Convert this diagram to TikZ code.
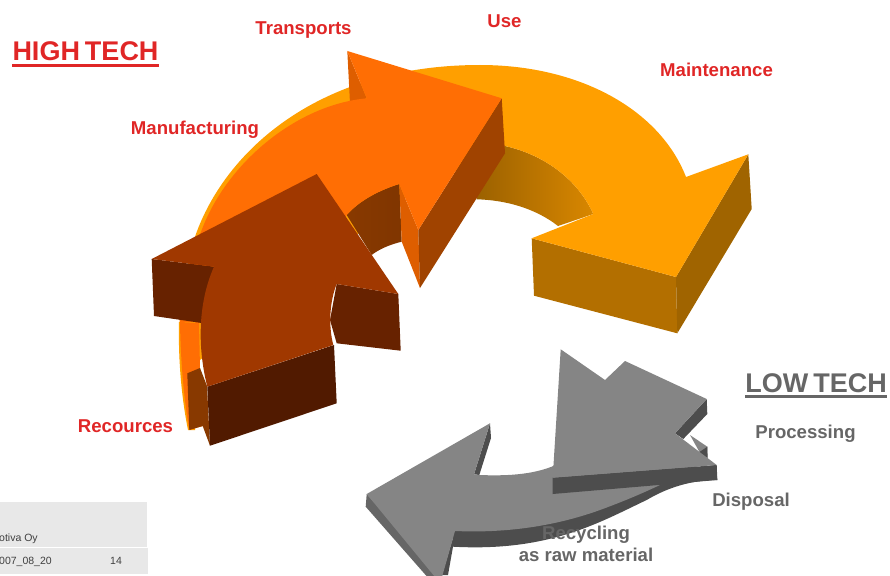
\documentclass[tikz,border=0pt]{standalone}
\usepackage{fontspec}
\setmainfont{Liberation Sans}
\definecolor{ylw}{HTML}{FF9F00}
\definecolor{ylwfront}{HTML}{B36F00}
\definecolor{ylwside}{HTML}{A06400}
\definecolor{org}{HTML}{FF6E04}
\definecolor{orgmid}{HTML}{DE5E00}
\definecolor{orgside}{HTML}{A04300}
\definecolor{brn}{HTML}{A03800}
\definecolor{brnside}{HTML}{672200}
\definecolor{brndark}{HTML}{511A00}
\definecolor{gtop}{HTML}{858585}
\definecolor{gdark}{HTML}{4D4D4D}
\definecolor{gmid}{HTML}{666666}
\definecolor{lblred}{HTML}{E02626}
\definecolor{lblgrey}{HTML}{666666}
\definecolor{foot}{HTML}{E8E8E8}
\tikzset{
  lbl/.style={inner sep=0pt,anchor=base,font=\fontsize{18.6}{20}\selectfont\bfseries},
  redlbl/.style={lbl,text=lblred},
  greylbl/.style={lbl,text=lblgrey},
  head/.style={inner sep=0pt,anchor=base,font=\fontsize{27}{29}\selectfont\bfseries},
  footlbl/.style={inner sep=0pt,anchor=base west,font=\fontsize{10.5}{12}\selectfont,text=black!75},
}
\begin{document}
\begin{tikzpicture}[x=1pt,y=-1pt]
\useasboundingbox (0,0) rectangle (890,575);
% footer
\fill[foot] (0,502) rectangle (147,547);
\fill[foot] (0,548) rectangle (148,574);
\node[footlbl] (fa) at (-1,541) {otiva Oy};
\node[footlbl] (fb) at (-1,564.5) {007\_08\_20};
\node[footlbl] (fc) at (110,564.5) {14};
% yellow arrow
\shade[left color=ylwside!95!black,right color=ylw!85!black]
  (470,140) -- (505,146) .. controls (545,155) and (578,180) .. (593.3,214) -- (558,226)
  .. controls (535,208) and (505,200) .. (476.7,199.3) -- cycle;
\fill[ylwfront] (531.7,238.3) -- (676,277) -- (677.3,333.3) -- (534,295.7) -- cycle;
\fill[ylwside] (676,277) -- (748.3,154.3) -- (751.7,209) -- (677.3,333.3) -- cycle;
\fill[ylw] (200,360) -- (180,360) .. controls (178,320) and (184,270) .. (195,236.7)
  .. controls (225,150) and (320,65) .. (480,65) .. controls (580,65) and (660,110) .. (686,177)
  -- (748.3,154.3) -- (676,277) -- (531.7,238.3) -- (593.3,214)
  .. controls (578,180) and (545,155) .. (505,146)
  -- (400,200) -- cycle;
% orange arrow
\shade[left color=orgside!85!black,right color=orgside!80!black]
  (346.7,215) .. controls (360,200) and (380,190) .. (399.3,184) -- (401.7,241.7)
  .. controls (388,245) and (378,250) .. (371.7,255) -- cycle;
\fill[orgmid] (399.3,184) -- (418.3,230) -- (420,288) -- (401.7,241.7) -- cycle;
\fill[orgside] (501.7,98.3) -- (505,153.3) -- (420,288) -- (418.3,230) -- cycle;
\fill[orgmid] (347.3,51) -- (366.7,98.3) -- (350,103.3) -- cycle;
\fill[org] (179.5,322) .. controls (181,290) and (188,258) .. (201,232)
  .. controls (225,165) and (295,105) .. (366.7,98.3)
  -- (347.3,51) -- (501.7,98.3) -- (418.3,230) -- (399.3,184)
  .. controls (380,190) and (360,200) .. (346.7,215)
  -- (300,300) -- (200,323) -- cycle;
% orange tail
\fill[ylw] (178.8,322) .. controls (178.5,360) and (181,395) .. (188,430) -- (195,430) -- (195,322) -- cycle;
\fill[org] (180,322) -- (199,323) -- (200,368) -- (202.7,426) -- (189.3,430)
  .. controls (184,400) and (180.5,360) .. (180,322) -- cycle;
\fill[orgside!85!black] (187.3,373.3) -- (200,368) -- (207,386) -- (210,445.7) -- (202.7,426) -- (189.3,430) -- cycle;
% brown arrow
\fill[brnside] (151.7,259) -- (214,266.7) -- (205,323.5) -- (154,316) -- cycle;
\fill[brnside] (336.7,284) -- (398.3,294) -- (400.7,350.7) -- (336.7,343.3) -- (330,320) -- cycle;
\fill[brndark] (207.3,386.7) -- (334,345) -- (336.7,403.3) -- (210,445.7) -- cycle;
\fill[brn] (316.7,174) -- (398.3,294) -- (336.7,284)
  .. controls (330,300) and (328,325) .. (333.3,345)
  -- (207.3,386.7)
  .. controls (198,350) and (197,305) .. (214,266.7)
  -- (151.7,259) -- cycle;
% grey back arrow
\fill[gdark] (453,546.7) -- (453,530) -- (560,515) -- (680,470) -- (716,465) -- (717.3,480)
  .. controls (685,480) and (660,492) .. (646.7,500)
  .. controls (600,522) and (550,552) .. (453,546.7) -- cycle;
\fill[gtop] (690,435) -- (707.3,446.7) -- (707.3,457) -- (700,453) -- cycle;
\fill[gdark] (707.3,446.7) -- (707.6,458) -- (695,455) -- cycle;
\fill[gmid] (366.7,494) -- (365.7,506.7) -- (430,580) -- (440,575) -- cycle;
\fill[gdark] (442,575) -- (455,531) -- (453,546.7) -- (448,575) -- cycle;
\fill[gdark] (490,423.3) -- (491,438) -- (479.3,475) -- (474,474.3) -- cycle;
\fill[gtop] (490,423.3) -- (366.7,494) -- (435,577) -- (442,577) -- (455,531)
  .. controls (500,533) and (550,528) .. (600,510)
  .. controls (630,499) and (655,488) .. (680,475)
  -- (700,465) -- (600,440) -- (551.7,466.7)
  .. controls (530,475) and (505,476) .. (479.3,475)
  -- (474,474.3) -- cycle;
% grey front arrow
\fill[gdark] (552.7,477.7) -- (716.7,465) -- (717.3,480) -- (552.7,494) -- cycle;
\fill[gdark] (706.7,399) -- (707.3,414) -- (683.3,439) -- (675,433.3) -- cycle;
\fill[gtop] (560.7,349.3) -- (605,380) -- (625,361) -- (706.7,399) -- (675,433.3) -- (716.7,465) -- (552.7,477.7) -- cycle;
% labels
\node[head,text=lblred] (high) at (85.5,61) {HIGH\hspace{5pt}TECH};
\fill[lblred] (12,64.5) rectangle (159,67);
\node[head,text=lblgrey] (low) at (816,392) {LOW\hspace{5pt}TECH};
\fill[lblgrey] (745,395) rectangle (887,397.5);
\node[redlbl] (tr) at (303.5,35) {Transports};
\node[redlbl] (us) at (504.5,28) {Use};
\node[redlbl] (ma) at (716.5,76.7) {Maintenance};
\node[redlbl] (mf) at (195,134.3) {Manufacturing};
\node[redlbl] (re) at (125.5,432.7) {Recources};
\node[greylbl] (pr) at (805.5,438) {Processing};
\node[greylbl] (di) at (751,506) {Disposal};
\node[greylbl] (rc) at (586,539.5) {Recycling};
\node[greylbl] (ra) at (586,561) {as raw material};
\end{tikzpicture}
\end{document}
